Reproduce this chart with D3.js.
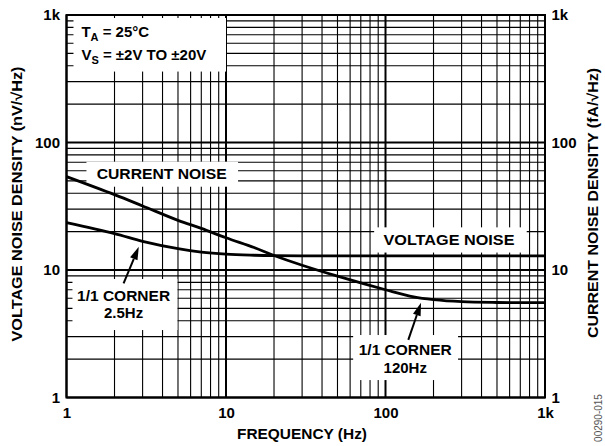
<!DOCTYPE html>
<html>
<head>
<meta charset="utf-8">
<script src="https://cdnjs.cloudflare.com/ajax/libs/d3/7.8.5/d3.min.js"></script>
<style>
    body { margin: 0; background: #fff; }
    svg text { font-family: "Liberation Sans", Arial, sans-serif; font-weight: bold; }
</style>
</head>
<body>
<div id="vis"></div>
<script>
(function () {
    // frequency (Hz) and noise densities
    const freq = [1, 2, 3, 5, 7, 10, 15, 20, 30, 50, 100, 150, 200, 300, 500, 1000];
    const voltageNoise = [23.5, 19.3, 16.8, 14.7, 13.8, 13.3, 13.05, 12.95, 12.9, 12.9, 12.9, 12.9, 12.9, 12.9, 12.9, 12.9];
    const currentNoise = [54, 39.0, 31.8, 24.5, 21.2, 17.9, 15.0, 13.0, 10.9, 8.95, 7.0, 6.15, 5.85, 5.64, 5.56, 5.54];

    const tickValues = [1, 10, 100, 1000];
    const tickLabels = ["1", "10", "100", "1k"];

    const W = 605, H = 446;
    const plot = { left: 66.5, right: 545, top: 15, bottom: 397.5 };

    const svg = d3.select("#vis").append("svg")
        .attr("width", W)
        .attr("height", H);

    const x = d3.scaleLog().domain([1, 1000]).range([plot.left, plot.right]);
    const y = d3.scaleLog().domain([1, 1000]).range([plot.bottom, plot.top]);

    const isMajor = v => Math.abs(Math.log10(v) - Math.round(Math.log10(v))) < 1e-9;

    // grid
    const grid = svg.append("g");
    grid.selectAll(".vline")
        .data(x.ticks())
        .enter().append("line")
        .attr("x1", d => x(d)).attr("x2", d => x(d))
        .attr("y1", plot.top).attr("y2", plot.bottom)
        .attr("stroke", "#000")
        .attr("stroke-width", d => isMajor(d) ? 2 : 1.1);

    grid.selectAll(".hline")
        .data(y.ticks())
        .enter().append("line")
        .attr("y1", d => y(d)).attr("y2", d => y(d))
        .attr("x1", plot.left).attr("x2", plot.right)
        .attr("stroke", "#000")
        .attr("stroke-width", d => isMajor(d) ? 2 : 1.1);

    svg.append("rect")
        .attr("x", plot.left).attr("y", plot.top)
        .attr("width", plot.right - plot.left)
        .attr("height", plot.bottom - plot.top)
        .attr("fill", "none")
        .attr("stroke", "#000")
        .attr("stroke-width", 2);

    // axes
    const fmt = d => tickLabels[tickValues.indexOf(d)];
    const axisFont = "15px";

    svg.append("g")
        .attr("transform", `translate(0,${plot.bottom})`)
        .call(d3.axisBottom(x).tickValues(tickValues).tickFormat(fmt).tickSize(0).tickPadding(10))
        .call(g => g.select(".domain").remove())
        .selectAll("text").style("font-size", axisFont).attr("fill", "#000");

    svg.append("g")
        .attr("transform", `translate(${plot.left},0)`)
        .call(d3.axisLeft(y).tickValues(tickValues).tickFormat(fmt).tickSize(0).tickPadding(6.5))
        .call(g => g.select(".domain").remove())
        .selectAll("text").style("font-size", axisFont).attr("fill", "#000");

    svg.append("g")
        .attr("transform", `translate(${plot.right},0)`)
        .call(d3.axisRight(y).tickValues(tickValues).tickFormat(fmt).tickSize(0).tickPadding(6.5))
        .call(g => g.select(".domain").remove())
        .selectAll("text").style("font-size", axisFont).attr("fill", "#000");

    svg.append("text")
        .attr("x", 302).attr("y", 439)
        .attr("text-anchor", "middle")
        .attr("textLength", 130)
        .attr("lengthAdjust", "spacingAndGlyphs")
        .style("font-size", "15px")
        .text("FREQUENCY (Hz)");

    svg.append("text")
        .attr("transform", "translate(21.5,204) rotate(-90)")
        .attr("text-anchor", "middle")
        .attr("textLength", 275)
        .attr("lengthAdjust", "spacingAndGlyphs")
        .style("font-size", "15px")
        .text("VOLTAGE NOISE DENSITY (nV/√Hz)");

    svg.append("text")
        .attr("transform", "translate(597.5,203) rotate(-90)")
        .attr("text-anchor", "middle")
        .attr("textLength", 270)
        .attr("lengthAdjust", "spacingAndGlyphs")
        .style("font-size", "15px")
        .text("CURRENT NOISE DENSITY (fA/√Hz)");

    svg.append("text")
        .attr("transform", "translate(602,418) rotate(-90)")
        .attr("text-anchor", "middle")
        .style("font-size", "10px")
        .style("font-weight", "normal")
        .attr("fill", "#555")
        .text("00290-015");

    // label boxes (corners in data units)
    function box(f0, f1, v0, v1) {
        svg.append("rect")
            .attr("x", x(f0)).attr("y", y(v0))
            .attr("width", x(f1) - x(f0))
            .attr("height", y(v1) - y(v0))
            .attr("fill", "#fff");
    }
    box(1.106, 10, 947, 360);
    box(1.334, 11.9, 70.7, 45);
    box(84.9, 768, 21.6, 13.7);
    box(1.09, 4.96, 8.5, 3.38);
    box(62.7, 285, 3.09, 1.37);

    const labelFont = "15px";

    const t1 = svg.append("text").attr("x", x(1.24)).attr("y", y(668))
        .style("font-size", labelFont);
    t1.append("tspan").text("T");
    t1.append("tspan").attr("dy", 4).style("font-size", "11px").text("A");
    t1.append("tspan").attr("dy", -4).text(" = 25°C");

    const t2 = svg.append("text").attr("x", x(1.24)).attr("y", y(444))
        .style("font-size", labelFont);
    t2.append("tspan").text("V");
    t2.append("tspan").attr("dy", 4).style("font-size", "11px").text("S");
    t2.append("tspan").attr("dy", -4).text(" = ±2V TO ±20V");

    function label(f, v, txt, len) {
        const t = svg.append("text")
            .attr("x", x(f)).attr("y", y(v))
            .attr("text-anchor", "middle")
            .style("font-size", labelFont)
            .text(txt);
        if (len) t.attr("textLength", len).attr("lengthAdjust", "spacingAndGlyphs");
    }
    label(3.95, 51.5, "CURRENT NOISE", 130);
    label(250, 15.7, "VOLTAGE NOISE", 131);
    label(2.28, 5.75, "1/1 CORNER", 93);
    label(2.28, 4.18, "2.5Hz");
    label(133, 2.15, "1/1 CORNER", 93);
    label(133, 1.565, "120Hz");

    // curves
    const line = d3.line()
        .x(d => x(d[0]))
        .y(d => y(d[1]))
        .curve(d3.curveCatmullRom.alpha(0.5));

    [voltageNoise, currentNoise].forEach(series => {
        svg.append("path")
            .datum(freq.map((f, i) => [f, series[i]]))
            .attr("fill", "none")
            .attr("stroke", "#000")
            .attr("stroke-width", 2.8)
            .attr("d", line);
    });

    // arrows
    function arrow(f0, v0, f1, v1) {
        const x0 = x(f0), y0 = y(v0), x1 = x(f1), y1 = y(v1);
        const dx = x1 - x0, dy = y1 - y0;
        const len = Math.hypot(dx, dy);
        const ux = dx / len, uy = dy / len;
        const head = 13, half = 4;
        const bx = x1 - ux * head, by = y1 - uy * head;
        svg.append("line")
            .attr("x1", x0).attr("y1", y0)
            .attr("x2", bx).attr("y2", by)
            .attr("stroke", "#000")
            .attr("stroke-width", 2);
        svg.append("path")
            .attr("d", `M${x1},${y1}L${bx - uy * half},${by + ux * half}L${bx + uy * half},${by - ux * half}Z`)
            .attr("fill", "#000");
    }
    arrow(2.28, 7.87, 2.84, 15.2);
    arrow(139, 2.83, 167, 5.54);
})();
</script>
</body>
</html>
